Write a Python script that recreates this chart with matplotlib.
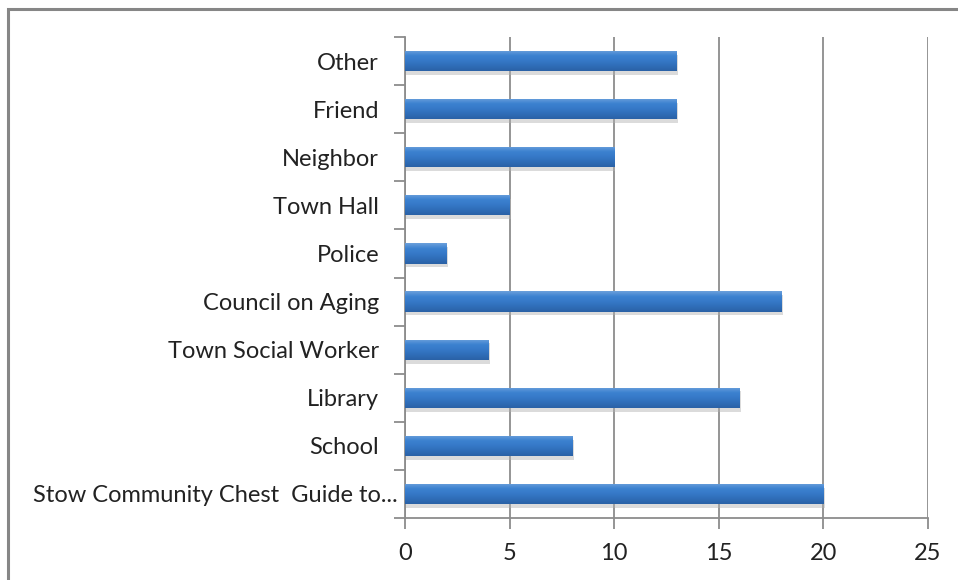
import numpy as np
import matplotlib.pyplot as plt
import matplotlib.transforms as mtransforms
from matplotlib.patches import Rectangle
from matplotlib.colors import LinearSegmentedColormap

# categories, bottom to top
categories = ['Stow Community Chest  Guide to...', 'School', 'Library',
              'Town Social Worker', 'Council on Aging', 'Police',
              'Town Hall', 'Neighbor', 'Friend', 'Other']
counts = [20, 8, 16, 4, 18, 2, 5, 10, 13, 13]
xticks = [0, 5, 10, 15, 20, 25]

plt.rcParams['font.family'] = ['Lato', 'DejaVu Sans']

fig = plt.figure(figsize=(9.58, 5.80), dpi=100)
ax = fig.add_axes([405/958, 1 - 518/580, 523/958, 481/580])

# outer chart frame (only left / top visible, cut off at edges)
fig.patches.append(Rectangle((8/958, -0.1), 1.2, (580 - 8)/580 + 0.1 - 0.001,
                             transform=fig.transFigure, fill=False,
                             edgecolor='#868686', linewidth=2.2))

y = np.arange(len(categories))
bars = ax.barh(y, counts, height=0.42, color='#3270B8', zorder=3)

# vertical gradient + soft shadow on each bar
grad = np.linspace(0, 1, 64).reshape(-1, 1)
cmap = LinearSegmentedColormap.from_list('bar', ['#2A62A6', '#2F6DB8', '#3679C8', '#3C82D0', '#6CA0DC'])
for b in bars:
    x0, y0 = b.get_x(), b.get_y()
    w, h = b.get_width(), b.get_height()
    sh = Rectangle((x0 + 0.06, y0 - 0.08), w, h, color='#b0b0b0', alpha=0.45,
                   zorder=2, linewidth=0)
    ax.add_patch(sh)
    im = ax.imshow(grad, extent=[x0, x0 + w, y0, y0 + h], aspect='auto',
                   cmap=cmap, origin='lower', zorder=4, interpolation='bicubic')
    im.set_clip_path(b)

ax.set_xlim(0, 25)
ax.set_ylim(-0.5, len(categories) - 0.5)
ax.set_xticks(xticks)
ax.xaxis.grid(True, color='#8c8c8c', linewidth=1.3, zorder=1)
ax.set_axisbelow(True)

ax.set_yticks(y)
ax.set_yticklabels(categories)
ax.set_yticks(np.arange(len(categories) + 1) - 0.5, minor=True)
ax.tick_params(axis='y', which='major', length=0, pad=18.7, labelsize=17,
               labelcolor='#222222')
ax.tick_params(axis='y', which='minor', length=8, width=1.3, color='#8c8c8c')
ax.tick_params(axis='x', length=8, width=1.3, color='#8c8c8c', pad=10,
               labelsize=17, labelcolor='#222222')

for s in ['top', 'right']:
    ax.spines[s].set_visible(False)
for s in ['left', 'bottom']:
    ax.spines[s].set_color('#8c8c8c')
    ax.spines[s].set_linewidth(1.3)

# the truncated first label sits closer to the axis
lab = ax.get_yticklabels()[0]
lab.set_transform(lab.get_transform() +
                  mtransforms.ScaledTranslation(19/100, 0, fig.dpi_scale_trans))

fig.savefig('out.png', dpi=100)
